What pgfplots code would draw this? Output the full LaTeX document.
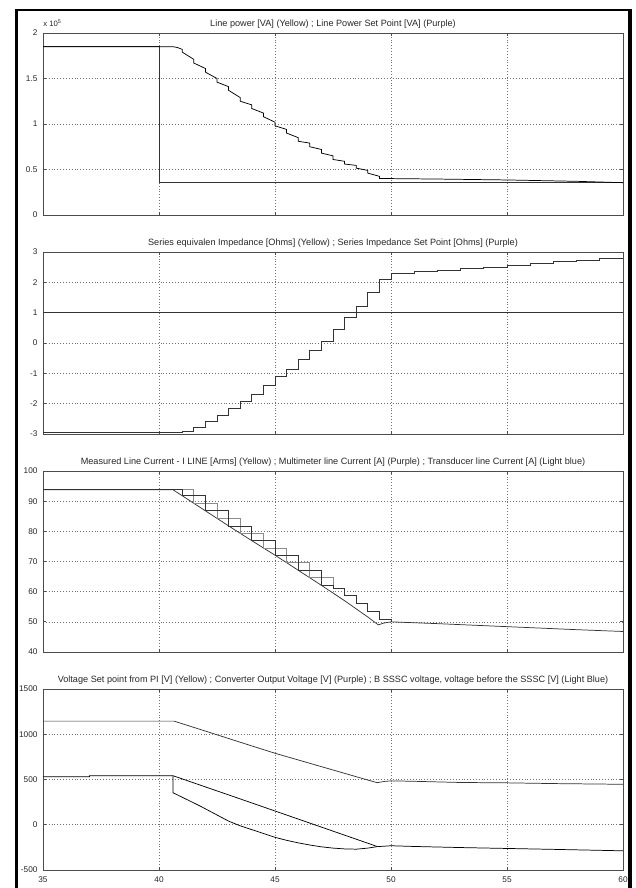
\documentclass[border=0pt]{standalone}
\usepackage{pgfplots}
\pgfplotsset{compat=1.18}
\usepackage{fontspec}
\setmainfont{Liberation Sans}
\pgfplotsset{
 every axis title shift=0pt,
 mstyle/.style={
  scale only axis, width=435pt, xmin=35, xmax=60, xtick={35,40,...,60},
  grid=major, major grid style={black!55, dash pattern=on 0.45pt off 1.7pt, line width=0.45pt},
  axis line style={black!70, line width=0.5pt},
  tick style={black!70, line width=0.5pt}, major tick length=2.2pt, tick align=inside, tick pos=both,
  ticklabel style={font=\fontsize{6.2}{7}\selectfont, text=black!85},
  yticklabel style={xshift=-0.6pt},
  xticklabel style={yshift=-1.6pt},
  /pgf/number format/assume math mode=true,
  /pgf/number format/1000 sep={},
  title style={at={(0.5,1)}, anchor=base, yshift=4.7pt, font=\fontsize{6.85}{7.5}\selectfont, inner sep=0pt, text=black!85},
  cycle list={{black!80, line width=0.55pt, mark=none}},
  every axis plot/.append style={line width=0.55pt, mark=none},
  scaled y ticks=false,
  anchor=south west,
 }
}
\begin{document}
\begin{tikzpicture}
\path[use as bounding box] (0,0) rectangle (476.25pt,666pt);
% outer frame
\fill[black] (11.0pt,-2pt) rectangle (13.4pt,659.4pt);
\fill[black] (11.0pt,657.6pt) rectangle (474.3pt,659.4pt);
\fill[black] (471.3pt,-2pt) rectangle (474.3pt,659.4pt);

% ---------- Panel 1 ----------
\begin{axis}[mstyle, name=p1, at={(32.25pt,504.75pt)}, height=136.5pt,
  ymin=0, ymax=2, ytick={0,0.5,1,1.5,2}, xticklabels={},
  title={Line power [VA] (Yellow) ; Line Power Set Point [VA] (Purple)}]
\addplot coordinates {(35,1.85) (40,1.85) (40,0.355) (60,0.355)};
\addplot coordinates {(35,1.85) (40.6,1.85) (40.8,1.84) (41.0,1.82) (41.0,1.79) (41.5,1.71) (41.5,1.67)
 (42.0,1.61) (42.0,1.57) (42.5,1.50) (42.5,1.46) (43,1.41) (43,1.37) (43.5,1.29) (43.5,1.25)
 (44,1.21) (44,1.17) (44.5,1.12) (44.5,1.08) (45,1.02) (45,0.98) (45.5,0.94) (45.5,0.90)
 (46,0.85) (46,0.81) (46.5,0.79) (46.5,0.75) (47,0.72) (47,0.68) (47.5,0.65) (47.5,0.61)
 (48,0.59) (48,0.56) (48.5,0.545) (48.5,0.515) (49,0.49) (49,0.46) (49.5,0.425) (49.5,0.40)
 (50,0.40) (52,0.395) (55,0.385) (58,0.37) (60,0.355)};
\end{axis}
\node[anchor=base west, inner sep=0pt, font=\fontsize{5.8}{6}\selectfont, text=black!85] at ([yshift=4.6pt]p1.north west) {x 10\textsuperscript{5}};

% ---------- Panel 2 ----------
\begin{axis}[mstyle, at={(32.25pt,340.5pt)}, height=136.5pt,
  ymin=-3, ymax=3, ytick={-3,-2,...,3}, xticklabels={},
  title={Series equivalen Impedance [Ohms] (Yellow) ; Series Impedance Set Point [Ohms] (Purple)}]
\addplot coordinates {(35,1) (60,1)};
\addplot[const plot, black!80] coordinates {(35,-2.94) (41.0,-2.90) (41.5,-2.78) (42,-2.59) (42.5,-2.37) (43,-2.15)
 (43.5,-1.91) (44,-1.68) (44.5,-1.41) (45,-1.11) (45.5,-0.87) (46,-0.54) (46.5,-0.23) (47,0.04)
 (47.5,0.45) (48,0.85) (48.5,1.22) (49,1.66) (49.5,2.10) (50,2.30) (51,2.35) (52,2.40) (53,2.45)
 (54,2.50) (55,2.56) (56,2.62) (57,2.68) (58,2.74) (59,2.80) (60,2.86)};
\end{axis}

% ---------- Panel 3 ----------
\begin{axis}[mstyle, at={(32.25pt,177pt)}, height=135.75pt,
  ymin=40, ymax=100, ytick={40,50,...,100}, xticklabels={},
  title={Measured Line Current - I LINE [Arms] (Yellow) ; Multimeter line Current [A] (Purple) ; Transducer line Current [A] (Light blue)}]
\addplot coordinates {(35,93.8) (40.6,93.8) (41,91.8) (42,86.8) (43,81.8) (44,76.9) (45,72.1) (46,67.1)
 (47,62.1) (48,57.0) (49,51.6) (49.45,49.0) (49.7,49.6) (50,50.0) (52,49.4) (55,48.4) (58,47.4) (60,46.8)};
\addplot[const plot, black!45] coordinates {(35,93.8) (41.5,89.3) (42.5,84.3) (43.5,79.4) (44.5,74.5)
 (45.5,69.6) (46.5,64.6) (47.5,61.1) (48,58.9) (48.5,56.1) (49,53.6) (49.5,50.9) (50,50.0)};
\addplot[const plot, black!80] coordinates {(35,93.8) (41,91.8) (42,86.8) (43,81.8) (44,76.9) (45,72.1)
 (46,67.1) (47,62.1) (47.5,61.1) (48,58.9) (48.5,56.1) (49,53.6) (49.5,50.9) (50,50.0)};
\end{axis}

% ---------- Panel 4 ----------
\begin{axis}[mstyle, at={(32.25pt,13.5pt)}, height=135.75pt,
  ymin=-500, ymax=1500, ytick={-500,0,500,1000,1500},
  title={Voltage Set point from PI [V] (Yellow) ; Converter Output Voltage [V] (Purple) ; B SSSC voltage, voltage before the SSSC [V] (Light Blue)}]
\addplot coordinates {(35,1145) (40.65,1145) (42,1035) (43,953) (44,871) (45,790) (46,716) (47,642)
 (48,568) (49,494) (49.4,465) (49.7,478) (50,485) (51,480) (53,467) (55,463) (57,455) (60,447)};
\addplot coordinates {(35,531) (37,531) (37,542) (40.6,542) (41,507) (42,418) (43,330) (44,241)
 (45,152) (46,63) (47,-26) (48,-115) (49,-204) (49.4,-240)};
\addplot coordinates {(40.6,542) (40.6,354) (41,304) (41.5,241) (41.77,207) (42.5,108) (43,40)
 (43.5,-12) (44,-54) (44.5,-96) (45,-139) (45.5,-172) (46,-200) (46.5,-224) (47,-244) (47.5,-258)
 (48,-267) (48.5,-270) (49,-258) (49.4,-242) (50,-232) (51,-240) (53,-252) (55,-262) (57,-272) (60,-288)};
\end{axis}
\end{tikzpicture}
\end{document}
